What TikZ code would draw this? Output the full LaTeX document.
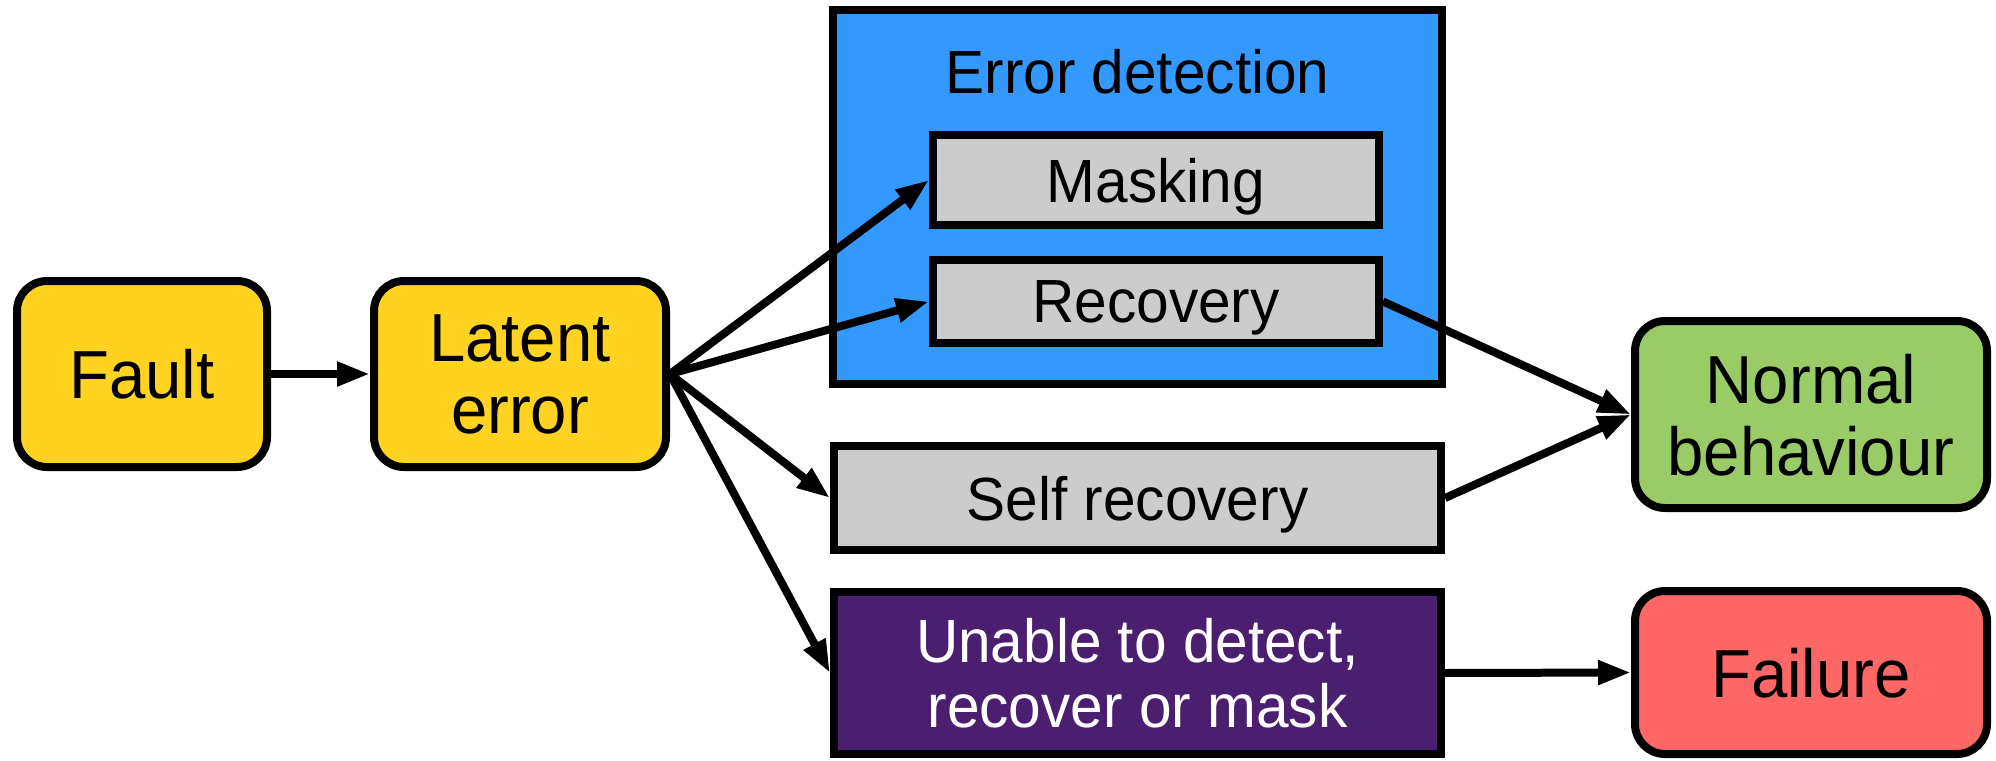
\documentclass[tikz,border=0pt]{standalone}
\usepackage{fontspec}
\setmainfont[FakeStretch=0.96]{Liberation Sans}
\usetikzlibrary{arrows.meta}
\definecolor{cyellow}{HTML}{FFD320}
\definecolor{cblue}{HTML}{3399FF}
\definecolor{cgrey}{HTML}{CCCCCC}
\definecolor{cpurple}{HTML}{4B1F6F}
\definecolor{cgreen}{HTML}{99CC66}
\definecolor{cred}{HTML}{FF6666}
\begin{document}
\begin{tikzpicture}[x=0.5pt,y=-0.5pt,
  basebox/.style={draw=black, line width=4pt, text depth=0pt, align=center, inner sep=0pt},
  rbox/.style={basebox, rounded corners=15pt, font=\fontsize{34}{36}\selectfont},
  sbox/.style={basebox, font=\fontsize{30.5}{32.5}\selectfont},
  conn/.style={line width=4pt, -{Triangle[length=16.5pt,width=11.5pt]}}]
\useasboundingbox (0,0) rectangle (1996,760);
% nodes
\node[rbox, fill=cyellow, minimum width=125pt, minimum height=93pt] (fault) at (142,374) {Fault};
\node[rbox, fill=cyellow, minimum width=146pt, minimum height=93pt] (latent) at (520,374) {Latent\\error};
\node[sbox, fill=cblue, minimum width=304.5pt, minimum height=187pt] (detect) at (1137.5,197) {};
\node[font=\fontsize{30.5}{32.5}\selectfont, anchor=base, inner sep=0pt] (detectlabel) at (1137.5,93) {Error detection};
\node[sbox, fill=cgrey, minimum width=223pt, minimum height=45pt] (masking) at (1156,180) {Masking};
\node[sbox, fill=cgrey, minimum width=223pt, minimum height=41.5pt] (recovery) at (1156,301.5) {Recovery};
\node[sbox, fill=cgrey, minimum width=303.5pt, minimum height=52pt] (self) at (1137.5,498) {Self recovery};
\node[sbox, fill=cpurple, text=white, minimum width=303.5pt, minimum height=81pt] (unable) at (1137.5,673) {Unable to detect,\\recover or mask};
\node[rbox, fill=cgreen, minimum width=176pt, minimum height=93.5pt] (normal) at (1811,414.5) {Normal\\behaviour};
\node[rbox, fill=cred, minimum width=176pt, minimum height=81.5pt] (failure) at (1811,672.5) {Failure};
% connectors
\draw[conn] (fault.east) -- (latent.west);
\draw[conn] (latent.east) -- (masking.west);
\draw[conn] (latent.east) -- (recovery.west);
\draw[conn] (latent.east) -- (self.west);
\draw[conn] (latent.east) -- (unable.west);
\draw[conn] (recovery.east) -- (normal.west);
\draw[conn] (self.east) -- (normal.west);
\draw[conn] (unable.east) -- (failure.west);
\end{tikzpicture}
\end{document}
